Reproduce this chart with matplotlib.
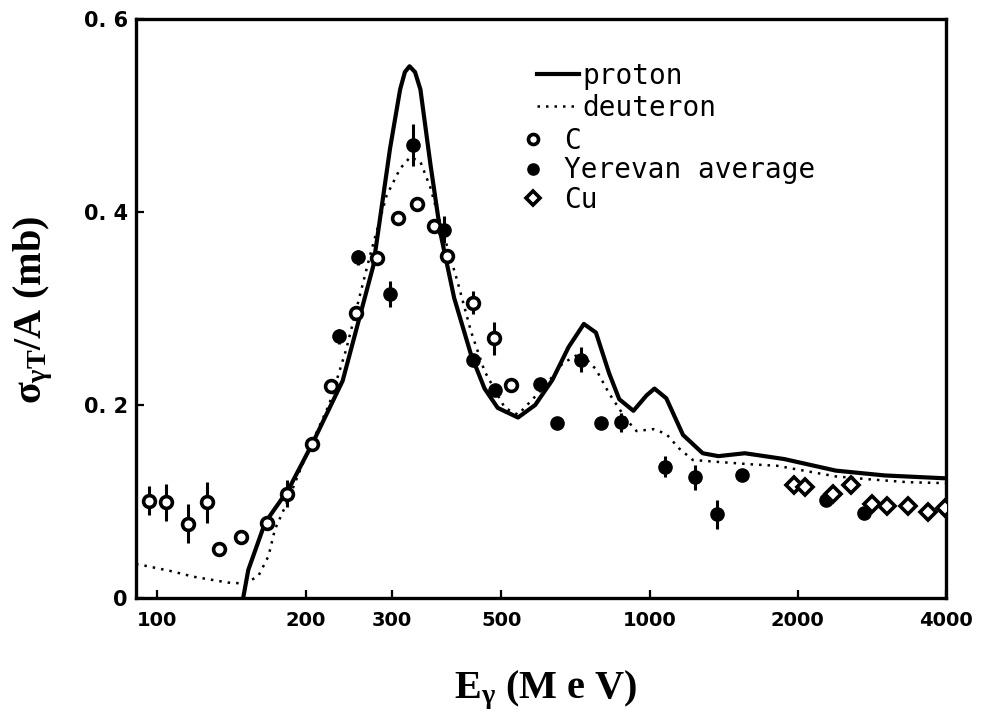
import matplotlib
matplotlib.use("Agg")
import matplotlib.pyplot as plt
from matplotlib.lines import Line2D

plt.rcParams["mathtext.fontset"] = "custom"
plt.rcParams["mathtext.rm"] = "Liberation Serif:bold"
plt.rcParams["mathtext.it"] = "Liberation Serif:bold"
plt.rcParams["mathtext.bf"] = "Liberation Serif:bold"

# --- curves --------------------------------------------------------------------
proton_e = [149.4, 153.0, 165.5, 184.9, 206.5, 237.9, 274.5, 297.0, 311.3, 318.3,
            325.3, 333.8, 342.3, 358.8, 376.3, 400.8, 433.8, 462.1, 491.4, 540.3,
            585.5, 634.6, 684.5, 735.2, 778.0, 827.3, 867.5, 927.0, 986.0, 1023,
            1081, 1169, 1282, 1379, 1561, 1876, 2389, 3002, 4000]
proton_s = [0.0, 0.029, 0.078, 0.113, 0.160, 0.225, 0.344, 0.466, 0.527, 0.545,
            0.551, 0.545, 0.527, 0.449, 0.377, 0.311, 0.252, 0.217, 0.197, 0.187,
            0.200, 0.226, 0.260, 0.284, 0.275, 0.233, 0.206, 0.194, 0.210, 0.217,
            0.207, 0.169, 0.150, 0.147, 0.150, 0.144, 0.132, 0.127, 0.124]

deuteron_e = [90.5, 92.3, 106.3, 118.6, 139.1, 150.3, 160.3, 168.2, 173.3, 184.9,
              196.9, 223.5, 241.7, 270.1, 292.2, 311.3, 326.5, 342.3, 358.8, 376.3,
              407.1, 433.8, 462.1, 508.1, 540.3, 614.0, 665.4, 724.6, 778.0, 827.3,
              896.8, 940.4, 1018, 1081, 1148, 1224, 1379, 1612, 1816, 2056,
              2389, 2790, 3349, 4000]
deuteron_s = [0.035, 0.0345, 0.028, 0.022, 0.016, 0.015, 0.0225, 0.0435, 0.071, 0.103,
              0.138, 0.201, 0.257, 0.354, 0.417, 0.445, 0.457, 0.452, 0.425, 0.387,
              0.328, 0.276, 0.235, 0.197, 0.190, 0.220, 0.243, 0.254, 0.237, 0.212,
              0.185, 0.173, 0.175, 0.170, 0.155, 0.143, 0.141, 0.1385, 0.137, 0.132,
              0.126, 0.123, 0.120, 0.119]

# --- data points ----------------------------------------------------------------
c_e = [96.0, 103.9, 115.4, 126.1, 133.7, 148.2, 167.4, 183.4, 206.5, 225.2,
       253.5, 280.0, 308.9, 337.0, 364.6, 388.2, 437.1, 482.8, 522.4]
c_s = [0.101, 0.099, 0.077, 0.099, 0.051, 0.063, 0.078, 0.108, 0.160, 0.220,
       0.295, 0.352, 0.394, 0.408, 0.386, 0.354, 0.306, 0.269, 0.221]
c_err = [0.015, 0.019, 0.020, 0.021, 0, 0, 0.006, 0.014, 0, 0,
         0, 0, 0, 0, 0, 0, 0.012, 0.017, 0]

yer_e = [234.3, 255.6, 297.0, 330.4, 382.2, 437.1, 484.5, 599.6, 724.6, 648.7,
         796.6, 875.9, 1073, 1235, 1371, 1538, 2286, 2723]
yer_s = [0.271, 0.353, 0.315, 0.4695, 0.3815, 0.247, 0.216, 0.222, 0.247, 0.181,
         0.181, 0.182, 0.136, 0.125, 0.087, 0.127, 0.102, 0.088]
yer_err = [0.008, 0.008, 0.013, 0.022, 0.014, 0, 0, 0, 0.013, 0,
           0, 0.010, 0.011, 0.013, 0.015, 0, 0, 0]

cu_e = [1964, 2072, 2356, 2563, 2828, 3029, 3344, 3680, 3980]
cu_s = [0.1175, 0.115, 0.108, 0.117, 0.097, 0.0955, 0.095, 0.089, 0.093]

XTICKS = [100, 200, 300, 500, 1000, 2000, 4000]
YTICKS = [0, 0.2, 0.4, 0.6]
YTICK_LABELS = ["0", "0. 2", "0. 4", "0. 6"]

fig = plt.figure(figsize=(9.85, 7.15), dpi=100)
ax = fig.add_axes([136 / 985, 1 - 598 / 715, 810 / 985, 579 / 715])

ax.plot(proton_e, proton_s, color="black", lw=3.0, solid_capstyle="round",
        solid_joinstyle="round", zorder=2)
ax.plot(deuteron_e, deuteron_s, color="black", lw=1.8, ls=(0, (1, 2.4)), zorder=2)

ax.errorbar(c_e, c_s, yerr=c_err, fmt="none", ecolor="black", elinewidth=2.2, capsize=0, zorder=3)
ax.errorbar(yer_e, yer_s, yerr=yer_err, fmt="none", ecolor="black", elinewidth=2.2, capsize=0, zorder=3)
c_line, = ax.plot(c_e, c_s, ls="none", marker="o", ms=8.5, mfc="white", mec="black", mew=2.6, zorder=4)
yer_line, = ax.plot(yer_e, yer_s, ls="none", marker="o", ms=9.5, mfc="black", mec="black", zorder=4)
cu_line, = ax.plot(cu_e, cu_s, ls="none", marker="D", ms=8, mfc="white", mec="black", mew=2.6, zorder=4)

ax.set_xscale("log")
ax.set_xlim(90.5, 4000)
ax.set_ylim(0, 0.6)
ax.set_xticks(XTICKS)
ax.set_xticklabels([str(t) for t in XTICKS])
ax.minorticks_off()
ax.set_yticks(YTICKS)
ax.set_yticklabels(YTICK_LABELS)
ax.tick_params(direction="in", length=6, width=1.6, labelsize=14, pad=9)
ax.tick_params(axis="y", labelsize=15, pad=6)
for lab in ax.get_xticklabels() + ax.get_yticklabels():
    lab.set_fontweight("bold")
for sp in ax.spines.values():
    sp.set_linewidth(2.4)

fig.text(546 / 985, 1 - 690 / 715, r"E$_{\gamma}$ (M e V)", ha="center", va="center",
         fontsize=29, family="Liberation Serif", weight="bold")
fig.text(33 / 985, 1 - 310 / 715, r"$\sigma_{\gamma \mathrm{T}}$/A (mb)", ha="center", va="center",
         rotation=90, fontsize=29, family="Liberation Serif", weight="bold")

legend_font = {"family": "DejaVu Sans Mono", "size": 20}
line_handles = [Line2D([], [], color="black", lw=3.0),
                Line2D([], [], color="black", lw=1.8, ls=(0, (1, 2.4)))]
leg1 = ax.legend(line_handles, ["proton", "deuteron"], loc="upper left",
                 bbox_to_anchor=(537 / 985, 1 - 62 / 715), bbox_transform=fig.transFigure,
                 frameon=False, prop=legend_font, handlelength=1.5, handletextpad=0.15,
                 borderpad=0, borderaxespad=0, labelspacing=0.15)
ax.add_artist(leg1)
ax.legend([c_line, yer_line, cu_line], ["C", "Yerevan average", "Cu"], loc="upper left",
          bbox_to_anchor=(522 / 985, 1 - 127 / 715), bbox_transform=fig.transFigure,
          frameon=False, prop=legend_font, handlelength=0.8, handletextpad=0.7,
          borderpad=0, borderaxespad=0, labelspacing=0.05, markerscale=0.85)

fig.savefig("out.png", dpi=100)
